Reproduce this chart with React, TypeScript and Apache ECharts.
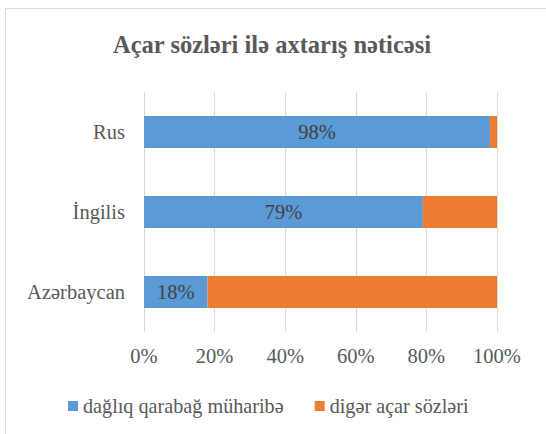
import React, { useEffect, useRef } from "react";
import * as echarts from "echarts";

const categories = ["Azərbaycan", "İngilis", "Rus"];
const seriesNames = ["dağlıq qarabağ müharibə", "digər açar sözləri"];
const warValues = [18, 79, 98];
const otherValues = [82, 21, 2];
const xTicks = [0, 20, 40, 60, 80, 100];
const titleText = "Açar sözləri ilə axtarış nəticəsi";

const FONT = "Times New Roman, Liberation Serif, DejaVu Serif, serif";

export default function App() {
  const ref = useRef<HTMLDivElement>(null);
  useEffect(() => {
    if (!ref.current) return;
    const chart = echarts.init(ref.current, undefined, { renderer: "svg" });
    chart.setOption({
      animation: false,
      backgroundColor: "#ffffff",
      textStyle: { fontFamily: FONT },
      title: {
        text: titleText,
        left: 267,
        textAlign: "center",
        top: 27,
        textStyle: { fontFamily: FONT, fontSize: 24.5, fontWeight: "bold", color: "#595959" },
      },
      graphic: [
        {
          type: "rect",
          shape: { x: 5.5, y: 8.5, width: 700, height: 600 },
          style: { fill: "none", stroke: "#d9d9d9", lineWidth: 1 },
          silent: true,
          z: -1,
        },
      ],
      legend: {
        top: 396,
        left: 68,
        padding: 0,
        itemWidth: 10,
        itemHeight: 10,
        itemGap: 31,
        icon: "rect",
        textStyle: { fontFamily: FONT, fontSize: 20.2, color: "#595959" },
        data: seriesNames,
      },
      grid: { left: 144, right: 49, top: 92, bottom: 102, containLabel: false },
      xAxis: {
        type: "value",
        min: 0,
        max: 100,
        interval: 20,
        axisLine: { show: false },
        axisTick: { show: false },
        splitLine: { show: true, lineStyle: { color: "#d9d9d9", width: 1 } },
        axisLabel: {
          margin: 13,
          fontFamily: FONT,
          fontSize: 20.5,
          color: "#595959",
          formatter: (v: number) => (xTicks.includes(v) ? v + "%" : ""),
        },
      },
      yAxis: {
        type: "category",
        data: categories,
        axisLine: { show: false },
        axisTick: { show: false },
        axisLabel: { margin: 19, fontFamily: FONT, fontSize: 20.5, color: "#595959" },
      },
      series: [
        {
          name: seriesNames[0],
          type: "bar",
          stack: "total",
          barWidth: "40%",
          data: warValues,
          itemStyle: { color: "#5b9bd5" },
          label: {
            show: true,
            position: "inside",
            formatter: "{c}%",
            fontFamily: FONT,
            fontSize: 20.5,
            color: "#404040",
          },
        },
        {
          name: seriesNames[1],
          type: "bar",
          stack: "total",
          barWidth: "40%",
          data: otherValues,
          itemStyle: { color: "#ed7d31" },
        },
      ],
    });
    return () => chart.dispose();
  }, []);
  return (
    <div
      ref={ref}
      style={{ position: "fixed", left: 0, top: 0, width: 546, height: 434 }}
    />
  );
}
